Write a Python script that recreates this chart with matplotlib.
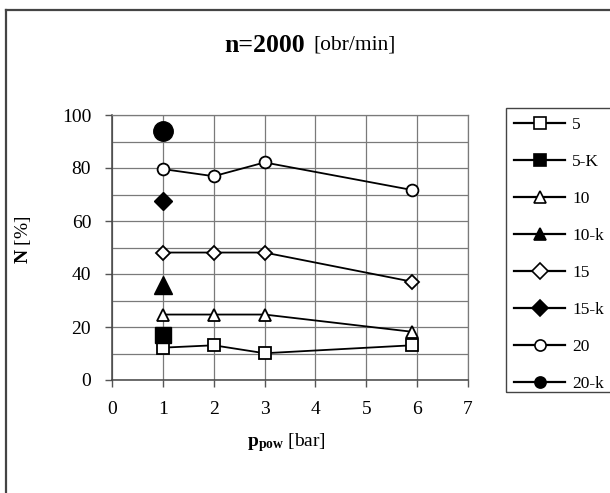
import matplotlib.pyplot as plt
from matplotlib.lines import Line2D
from matplotlib.patches import Rectangle

plt.rcParams['font.family'] = ['Liberation Serif', 'DejaVu Serif']
plt.rcParams['mathtext.fontset'] = 'custom'
plt.rcParams['mathtext.rm'] = 'Liberation Serif'
plt.rcParams['mathtext.bf'] = 'Liberation Serif:bold'

# cisnienie powietrza [bar]
p_pow = [1, 2, 3, 5.9]
N_5 = [12.2, 13.1, 10.1, 13.1]
N_10 = [24.7, 24.7, 24.7, 18.2]
N_15 = [48.1, 48.1, 48.1, 37.1]
N_20 = [79.6, 76.9, 82.1, 71.7]

# pojedyncze punkty dla "k"
p_k = [1]
N_5k = [17.0]
N_10k = [36.0]
N_15k = [67.7]
N_20k = [94.0]

labels = ['5', '5-K', '10', '10-k', '15', '15-k', '20', '20-k']

W, H = 610, 493
fig = plt.figure(figsize=(W / 100, H / 100), dpi=100)
ax = fig.add_axes([112 / W, 1 - 380 / H, 356 / W, 265 / H])

lw = 1.3
ax.plot(p_pow, N_5, '-s', color='black', mfc='white', mec='black', ms=8, mew=1.3, lw=lw, zorder=3)
ax.plot(p_pow, N_10, '-^', color='black', mfc='white', mec='black', ms=9, mew=1.3, lw=lw, zorder=3)
ax.plot(p_pow, N_15, '-D', color='black', mfc='white', mec='black', ms=7, mew=1.3, lw=lw, zorder=3)
ax.plot(p_pow, N_20, '-o', color='black', mfc='white', mec='black', ms=8.5, mew=1.3, lw=lw, zorder=3)

ax.plot(p_k, N_5k, 's', color='black', ms=11, zorder=4)
ax.plot(p_k, N_10k, '^', color='black', ms=13, zorder=4)
ax.plot(p_k, N_15k, 'D', color='black', ms=9, zorder=4)
ax.plot(p_k, N_20k, 'o', color='black', ms=14, zorder=4)

ax.set_xlim(0, 7)
ax.set_ylim(0, 100)
ax.set_xticks(range(0, 8))
ax.set_yticks(range(0, 101, 20))
ax.set_yticks(range(0, 101, 10), minor=True)
ax.grid(True, which='both', color='#7a7a7a', lw=0.9)
ax.set_axisbelow(True)
ax.tick_params(which='major', direction='out', length=5, width=1, color='#555555',
               labelsize=14, pad=10)
ax.tick_params(which='minor', length=0)
for side in ['top', 'right']:
    ax.spines[side].set_color('#7a7a7a')
    ax.spines[side].set_linewidth(0.9)
for side in ['left', 'bottom']:
    ax.spines[side].set_color('#444444')
    ax.spines[side].set_linewidth(1.1)

ax.set_ylabel(r'$\mathbf{N}$ [%]', fontsize=14)
ax.yaxis.set_label_coords((33 - 112) / 356, 0.53)
ax.set_xlabel(r'$\mathbf{p_{pow}}$ [bar]', fontsize=14)
ax.xaxis.set_label_coords(0.49, (380 - 431) / 265)

fig.text(305 / W, 1 - 45 / H, 'n=2000', fontsize=18.5, fontweight='bold', ha='right', va='center')
fig.text(313 / W, 1 - 45 / H, '[obr/min]', fontsize=15.5, ha='left', va='center')

# legenda - ramka wychodzi poza prawa krawedz
fig.patches.append(Rectangle((506 / W, 1 - 392 / H), 120 / W, 284 / H, transform=fig.transFigure,
                             fill=False, edgecolor='#444444', lw=1.0))
styles = [('s', 'white'), ('s', 'black'), ('^', 'white'), ('^', 'black'),
          ('D', 'white'), ('D', 'black'), ('o', 'white'), ('o', 'black')]
handles = [Line2D([], [], color='black', lw=1.6, marker=m, mfc=fc, mec='black',
                  ms=8, mew=1.2) for m, fc in styles]
leg = fig.legend(handles, labels, loc='upper left', bbox_to_anchor=(514 / W, 1 - 117 / H),
                 fontsize=12.5, frameon=False, labelspacing=1.2, handlelength=2.95,
                 borderpad=0, handletextpad=0.4, borderaxespad=0)

# obramowanie wykresu (przyciete z prawej i od dolu)
fig.add_artist(Line2D([6 / W, 6 / W], [0, 1 - 10 / H], transform=fig.transFigure,
                      color='#444444', lw=1.6))
fig.add_artist(Line2D([6 / W, 1], [1 - 10 / H, 1 - 10 / H], transform=fig.transFigure,
                      color='#444444', lw=1.6))

fig.savefig('out.png', dpi=100)
